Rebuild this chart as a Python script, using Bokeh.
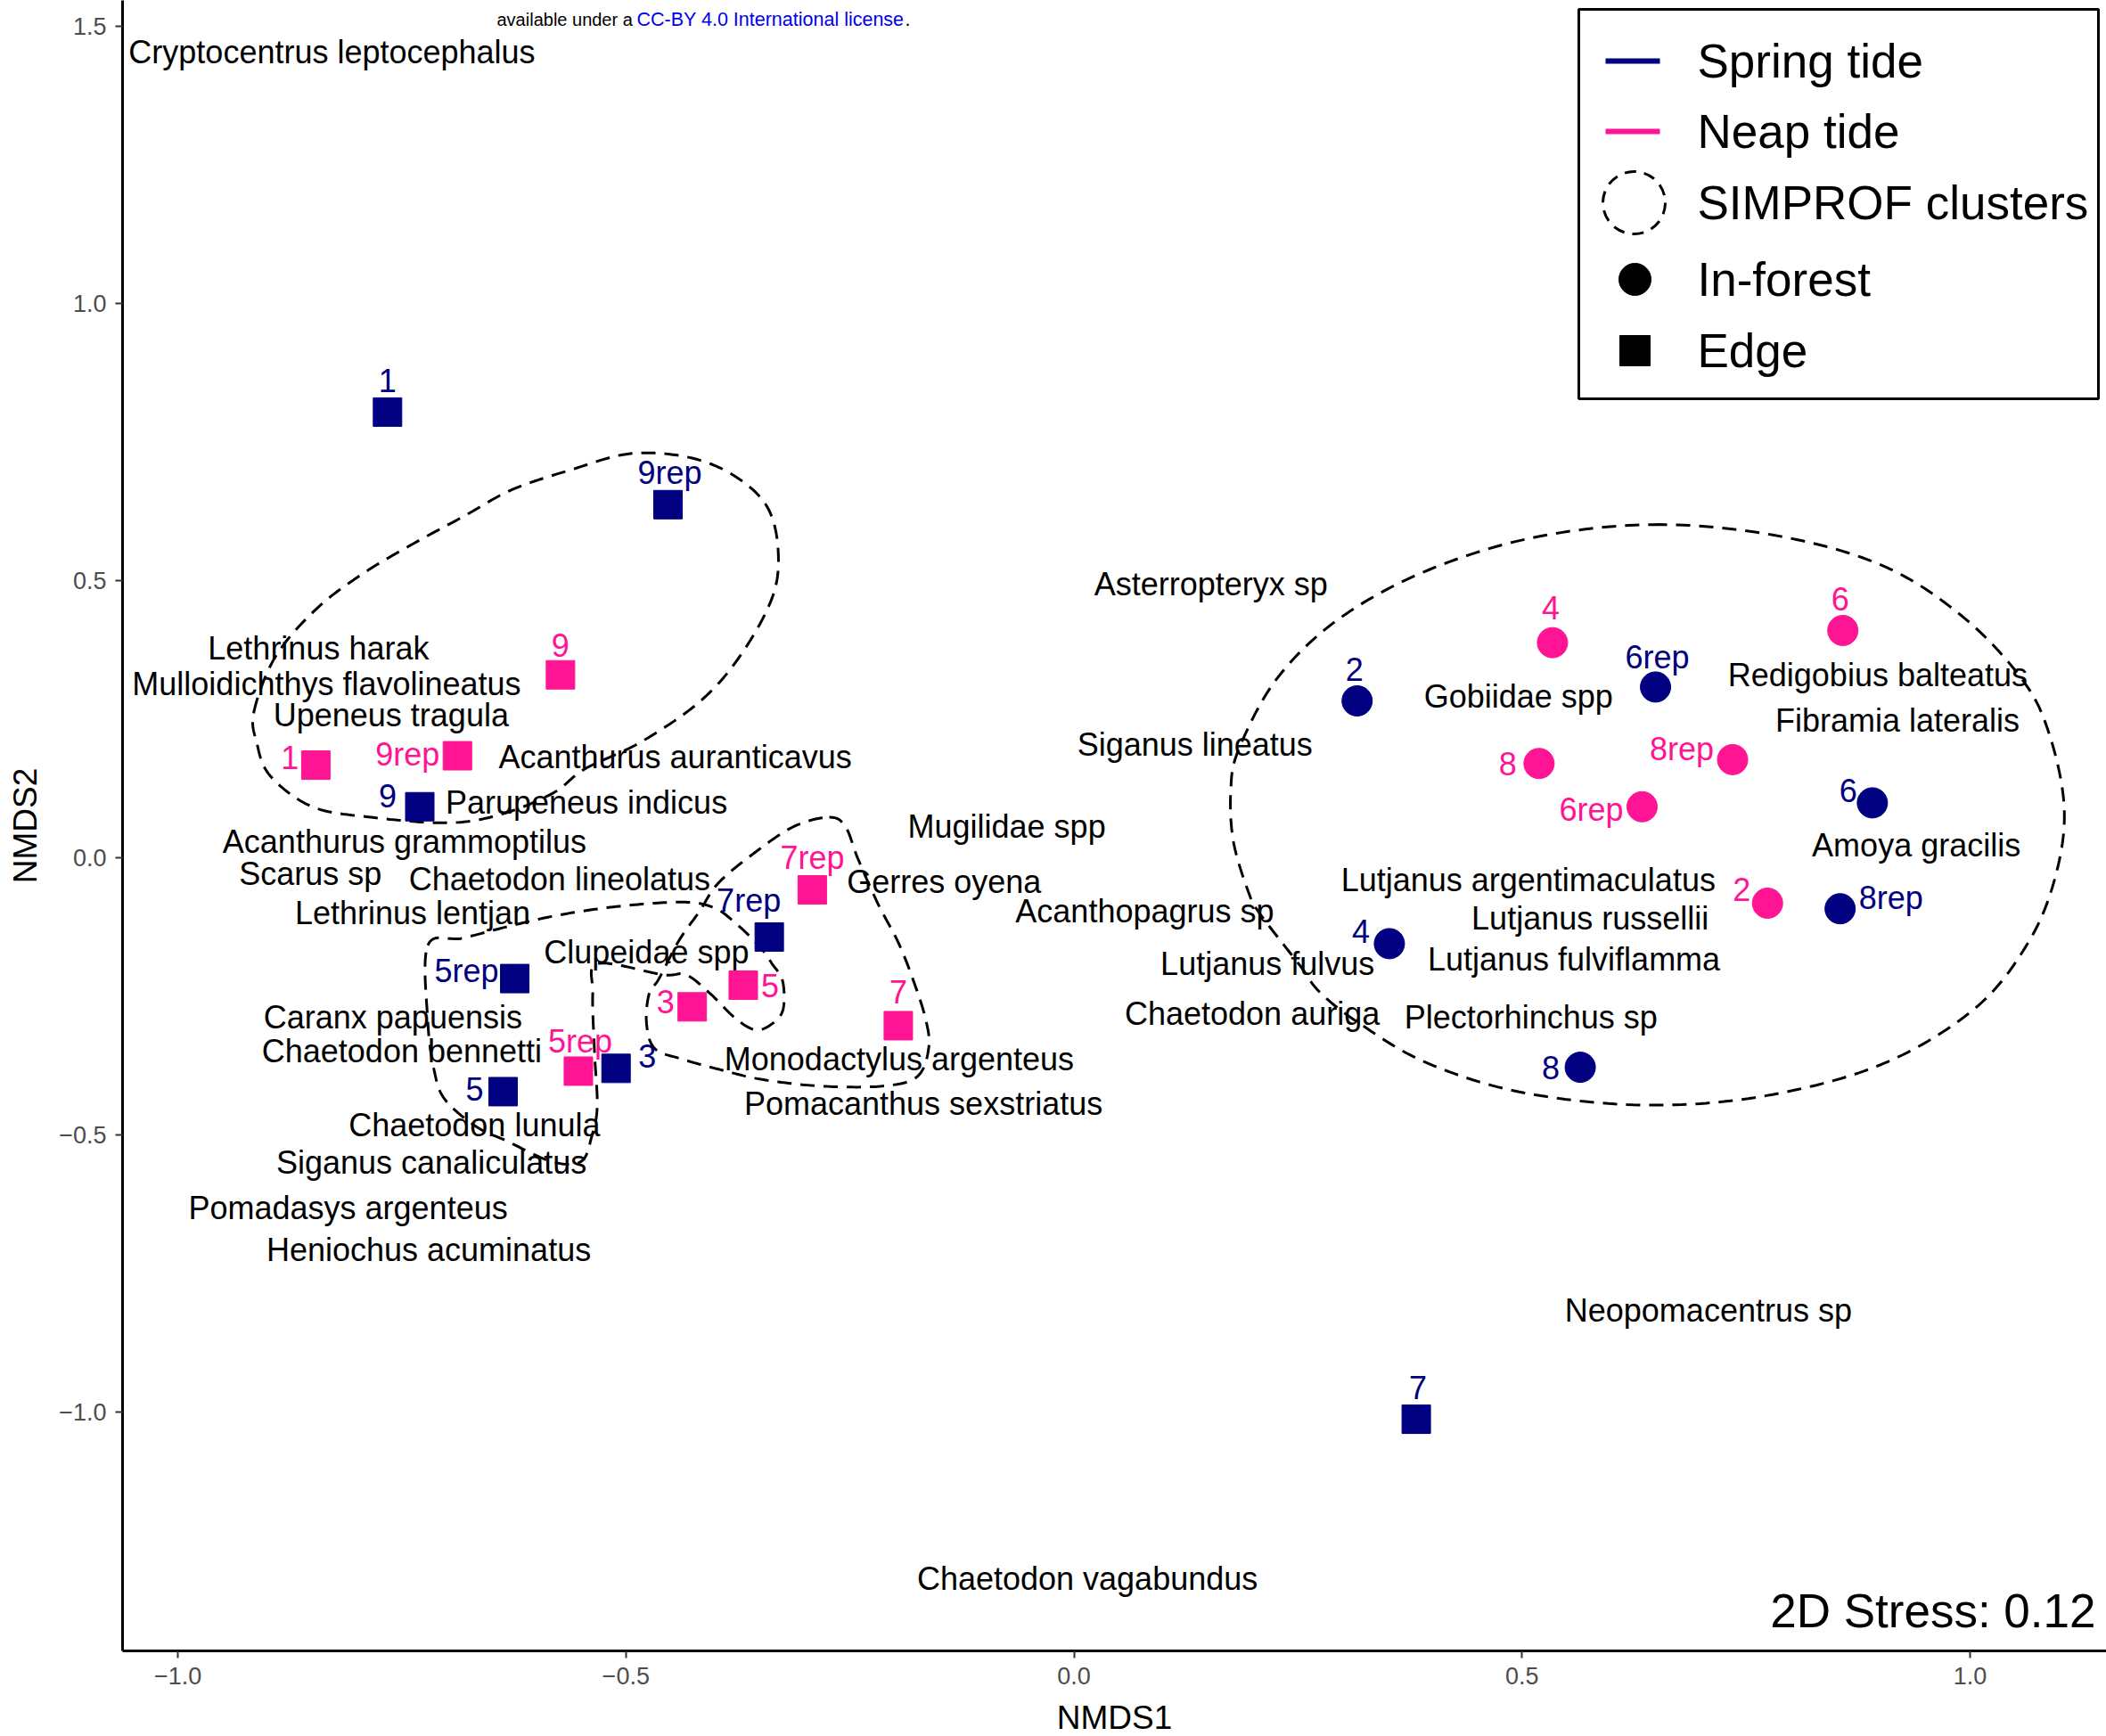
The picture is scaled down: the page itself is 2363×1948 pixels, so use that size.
import numpy as np
from bokeh.plotting import figure
from bokeh.models import Range1d, FixedTicker, ColumnDataSource
from bokeh.core.properties import value
from bokeh.embed import file_html
from bokeh.resources import INLINE

FONT = "Liberation Sans"
NAVY = "#000080"
PINK = "#FF1493"

# ---------------------------------------------------------------- samples
sample_label = ["1", "9rep", "9", "7rep", "5rep", "5", "3", "7",
                "2", "6rep", "6", "8rep", "4", "8",
                "1", "9rep", "9", "7rep", "3", "5", "5rep", "7",
                "4", "6", "8", "8rep", "6rep", "2"]
sample_tide = ["Spring tide"] * 14 + ["Neap tide"] * 14
sample_habitat = (["Edge"] * 8 + ["In-forest"] * 6 +
                  ["Edge"] * 8 + ["In-forest"] * 6)
nmds1 = [-0.766, -0.453, -0.730, -0.340, -0.624, -0.637, -0.511, 0.382,
         0.316, 0.649, 0.891, 0.855, 0.352, 0.565,
         -0.846, -0.688, -0.573, -0.292, -0.426, -0.369, -0.553, -0.196,
         0.534, 0.858, 0.519, 0.735, 0.634, 0.774]
nmds2 = [0.804, 0.637, 0.092, -0.143, -0.218, -0.422, -0.380, -1.013,
         0.283, 0.308, 0.099, -0.092, -0.155, -0.378,
         0.167, 0.184, 0.330, -0.058, -0.269, -0.230, -0.385, -0.303,
         0.388, 0.410, 0.170, 0.177, 0.092, -0.082]

# label nudges, screen pixels (y down)
label_dx = [0, 2, -36, -23, -54, -32, 35, 2,
            -3, 2, -27, 57, -32, -33,
            -29, -56, 0, 0, -30, 30, 2, 0,
            -2, -3, -35, -57, -57, -29]
label_dy = [-35, -36, -12, -41, -9, -3, -14, -36,
            -35, -33, -14, -12, -14, 0,
            -9, -2, -33, -36, -6, 0, -33, -38,
            -39, -35, 0, -12, 3, -15]

# ---------------------------------------------------------------- species
species = ["Cryptocentrus leptocephalus", "Lethrinus harak",
           "Mulloidichthys flavolineatus", "Upeneus tragula",
           "Acanthurus auranticavus", "Parupeneus indicus",
           "Acanthurus grammoptilus", "Scarus sp", "Chaetodon lineolatus",
           "Lethrinus lentjan", "Clupeidae spp", "Caranx papuensis",
           "Chaetodon bennetti", "Chaetodon lunula", "Siganus canaliculatus",
           "Pomadasys argenteus", "Heniochus acuminatus",
           "Monodactylus argenteus", "Pomacanthus sexstriatus",
           "Mugilidae spp", "Gerres oyena", "Acanthopagrus sp",
           "Asterropteryx sp", "Siganus lineatus", "Lutjanus fulvus",
           "Chaetodon auriga", "Gobiidae spp", "Redigobius balteatus",
           "Fibramia lateralis", "Amoya gracilis",
           "Lutjanus argentimaculatus", "Lutjanus russellii",
           "Lutjanus fulviflamma", "Plectorhinchus sp", "Neopomacentrus sp",
           "Chaetodon vagabundus"]
species_x = [-0.828, -0.843, -0.834, -0.762, -0.445, -0.544, -0.747, -0.852,
             -0.574, -0.738, -0.477, -0.760, -0.750, -0.669, -0.717, -0.810,
             -0.720, -0.195, -0.168, -0.075, -0.145, 0.079, 0.153, 0.135,
             0.216, 0.199, 0.496, 0.897, 0.919, 0.940, 0.507, 0.576, 0.558,
             0.510, 0.708, 0.015]
species_y = [1.454, 0.378, 0.313, 0.257, 0.182, 0.099, 0.029, -0.029,
             -0.039, -0.099, -0.170, -0.288, -0.349, -0.482, -0.550, -0.632,
             -0.708, -0.363, -0.443, 0.056, -0.044, -0.097, 0.494, 0.204,
             -0.191, -0.281, 0.291, 0.330, 0.247, 0.022, -0.041, -0.109,
             -0.184, -0.288, -0.817, -1.301]

# ---------------------------------------------------------- SIMPROF groups
cluster_a_x = [-0.915, -0.891, -0.846, -0.795, -0.739, -0.682, -0.627, -0.561,
               -0.495, -0.429, -0.378, -0.342, -0.330, -0.337, -0.373, -0.418,
               -0.484, -0.546, -0.582, -0.640, -0.699, -0.784, -0.850, -0.897,
               -0.912]
cluster_a_y = [0.264, 0.363, 0.448, 0.511, 0.565, 0.615, 0.664, 0.700,
               0.729, 0.722, 0.688, 0.632, 0.552, 0.468, 0.363, 0.281,
               0.208, 0.160, 0.116, 0.078, 0.063, 0.073, 0.092, 0.148,
               0.208]
cluster_b_x = [-0.721, -0.682, -0.624, -0.570, -0.504, -0.436, -0.402, -0.379,
               -0.352, -0.337, -0.325, -0.325, -0.340, -0.357, -0.379, -0.406,
               -0.433, -0.459, -0.531, -0.537, -0.535, -0.532, -0.538, -0.550,
               -0.583, -0.633, -0.667, -0.702, -0.714, -0.721]
cluster_b_y = [-0.158, -0.145, -0.121, -0.102, -0.087, -0.080, -0.090, -0.116,
               -0.158, -0.191, -0.223, -0.276, -0.303, -0.310, -0.288, -0.245,
               -0.211, -0.211, -0.191, -0.245, -0.351, -0.448, -0.502, -0.548,
               -0.548, -0.511, -0.485, -0.436, -0.383, -0.296]
cluster_c_x = [-0.273, -0.255, -0.241, -0.219, -0.196, -0.180, -0.166, -0.162,
               -0.175, -0.214, -0.282, -0.348, -0.393, -0.438, -0.468, -0.477,
               -0.474, -0.463, -0.441, -0.418, -0.397, -0.358, -0.313]
cluster_c_y = [0.073, 0.056, -0.002, -0.082, -0.153, -0.218, -0.288, -0.342,
               -0.395, -0.412, -0.412, -0.400, -0.383, -0.363, -0.344, -0.298,
               -0.245, -0.218, -0.150, -0.097, -0.046, 0.007, 0.056]
cluster_e_x = [0.646, 0.781, 0.901, 0.991, 1.058, 1.088, 1.105, 1.096, 1.066,
               1.006, 0.901, 0.766, 0.631, 0.496, 0.391, 0.316, 0.274, 0.252,
               0.208, 0.195, 0.178, 0.175, 0.184, 0.226, 0.294, 0.391, 0.511]
cluster_e_y = [0.601, 0.582, 0.528, 0.436, 0.322, 0.225, 0.092, -0.029,
               -0.150, -0.271, -0.373, -0.431, -0.446, -0.422, -0.368, -0.296,
               -0.242, -0.194, -0.102, -0.063, 0.029, 0.121, 0.196, 0.322,
               0.429, 0.516, 0.577]
clusters = [(cluster_a_x, cluster_a_y), (cluster_b_x, cluster_b_y),
            (cluster_c_x, cluster_c_y), (cluster_e_x, cluster_e_y)]

x_ticks = [-1.0, -0.5, 0.0, 0.5, 1.0]
x_tick_labels = ["\u22121.0", "\u22120.5", "0.0", "0.5", "1.0"]
y_ticks = [-1.0, -0.5, 0.0, 0.5, 1.0, 1.5]
y_tick_labels = ["\u22121.0", "\u22120.5", "0.0", "0.5", "1.0", "1.5"]

legend_labels = ["Spring tide", "Neap tide", "SIMPROF clusters",
                 "In-forest", "Edge"]
stress_text = "2D Stress: 0.12"
licence_parts = ["available under a", "CC-BY 4.0 International license", "."]


def closed_spline(xs, ys, n=20):
    """Closed Catmull-Rom curve through the outline points."""
    P = np.column_stack([xs, ys]).astype(float)
    m = len(P)
    t = np.linspace(0, 1, n, endpoint=False)[:, None]
    segs = []
    for i in range(m):
        p0, p1, p2, p3 = P[i - 1], P[i], P[(i + 1) % m], P[(i + 2) % m]
        segs.append(0.5 * (2 * p1 + (p2 - p0) * t
                           + (2 * p0 - 5 * p1 + 4 * p2 - p3) * t ** 2
                           + (3 * p1 - p0 - 3 * p2 + p3) * t ** 3))
    segs.append(P[:1])
    out = np.vstack(segs)
    return out[:, 0], out[:, 1]


FW, FH = 2226, 1852
p = figure(frame_width=FW, frame_height=FH,
           x_range=Range1d(-1.0617, 1.1522), y_range=Range1d(-1.4309, 1.5466),
           min_border_left=137, min_border_right=0, min_border_top=0,
           min_border_bottom=96, output_backend="svg", toolbar_location=None,
           background_fill_color="white", border_fill_color="white")
p.outline_line_color = None
p.grid.visible = False
# pixel-space ranges for the key and annotations
p.extra_x_ranges = {"px": Range1d(0, FW)}
p.extra_y_ranges = {"px": Range1d(0, FH)}

for ax, ticks, labels in ((p.xaxis, x_ticks, x_tick_labels),
                          (p.yaxis, y_ticks, y_tick_labels)):
    ax.ticker = FixedTicker(ticks=ticks)
    ax.major_label_overrides = dict(zip(ticks, labels))
    ax.minor_tick_line_color = None
    ax.axis_line_color = "black"
    ax.axis_line_width = 3
    ax.major_tick_line_color = "#333333"
    ax.major_tick_line_width = 2
    ax.major_tick_out = 8
    ax.major_tick_in = 0
    ax.major_label_text_font = FONT
    ax.major_label_text_font_size = "27px"
    ax.major_label_text_color = "#4D4D4D"
    ax.major_label_standoff = 10
    ax.axis_label_text_font = FONT
    ax.axis_label_text_font_size = "37px"
    ax.axis_label_text_font_style = "normal"
    ax.axis_label_text_color = "black"
    ax.axis_label_standoff = 14
p.xaxis.axis_label = "NMDS1"
p.yaxis.axis_label = "NMDS2"

# species names
p.text(x=species_x, y=species_y, text=species, text_font=value(FONT),
       text_font_size="36px", text_color="black", text_align="center",
       text_baseline="middle")

# SIMPROF cluster outlines
for cx, cy in clusters:
    sx, sy = closed_spline(cx, cy)
    p.line(sx, sy, line_color="black", line_width=3, line_dash="16 10")

# sample points
colors = [NAVY if t == "Spring tide" else PINK for t in sample_tide]
markers = ["square" if h == "Edge" else "circle" for h in sample_habitat]
sizes = [32 if h == "Edge" else 34 for h in sample_habitat]
src = ColumnDataSource(dict(x=nmds1, y=nmds2, lab=sample_label, col=colors,
                            mk=markers, sz=sizes, dx=label_dx, dy=label_dy))
p.scatter(x="x", y="y", marker="mk", size="sz", fill_color="col",
          line_color="col", line_width=1, source=src)
p.text(x="x", y="y", text="lab", x_offset="dx", y_offset="dy",
       text_color="col", text_font=value(FONT), text_font_size="36px",
       text_align="center", text_baseline="middle", source=src)

# key
kw = dict(x_range_name="px", y_range_name="px")
p.quad(left=1634, right=2217, top=1842, bottom=1405, fill_color="white",
       line_color="black", line_width=3, **kw)
rows = [1784, 1705, 1625, 1539, 1459]
p.segment(x0=[1664, 1664], x1=[1725, 1725], y0=rows[:2], y1=rows[:2],
          line_color=[NAVY, PINK], line_width=6, **kw)
p.scatter(x=[1696], y=[rows[2]], marker="circle", size=70, fill_color=None,
          line_color="black", line_width=3, line_dash="13 9", **kw)
p.scatter(x=[1697], y=[rows[3]], marker="circle", size=36, fill_color="black",
          line_color="black", **kw)
p.scatter(x=[1697], y=[rows[4]], marker="square", size=34, fill_color="black",
          line_color="black", **kw)
p.text(x=[1767] * 5, y=rows, text=legend_labels, text_font=value(FONT),
       text_font_size="53px", text_color="black", text_baseline="middle",
       text_align="left", **kw)

# stress annotation
p.text(x=[2214], y=[45], text=[stress_text], text_font=value(FONT),
       text_font_size="53px", text_color="black", text_align="right",
       text_baseline="middle", **kw)

# licence strip along the upper edge
p.text(x=[420, 577, 878], y=[FH - 21] * 3, text=licence_parts,
       text_color=["black", "#0000EE", "black"], text_font=value(FONT),
       text_font_size=["20px", "21.5px", "21.5px"], text_align="left",
       text_baseline="alphabetic", **kw)

open("out.html", "w").write(file_html(p, INLINE))
